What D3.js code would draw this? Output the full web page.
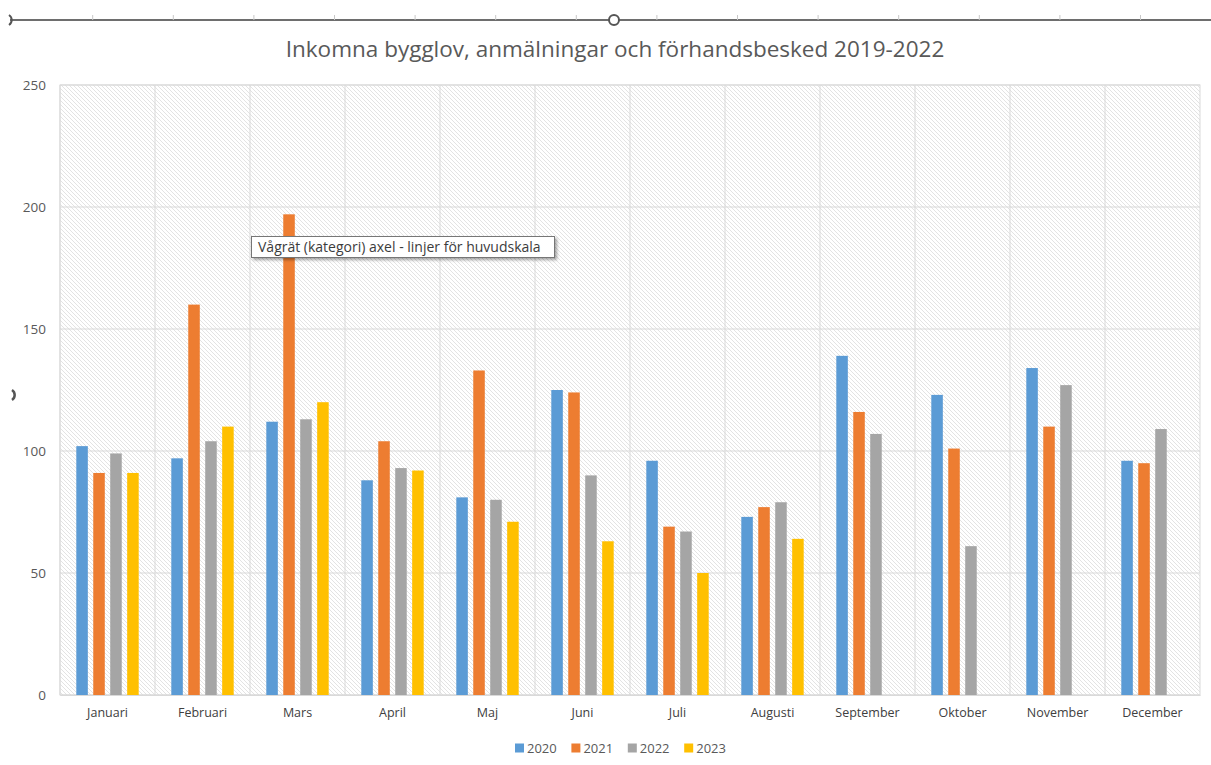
<!DOCTYPE html>
<html>
<head>
<meta charset="utf-8">
<script src="https://cdn.jsdelivr.net/npm/d3@7"></script>
<style>
  body { margin: 0; background: #fff; }
  text { font-family: "Open Sans", sans-serif; }
</style>
</head>
<body>
<div id="app"></div>
<script>
const container = document.querySelector('#app');

// chart data
const months = ["Januari", "Februari", "Mars", "April", "Maj", "Juni", "Juli",
  "Augusti", "September", "Oktober", "November", "December"];
const years = ["2020", "2021", "2022", "2023"];
const v2020 = [102, 97, 112, 88, 81, 125, 96, 73, 139, 123, 134, 96];
const v2021 = [91, 160, 197, 104, 133, 124, 69, 77, 116, 101, 110, 95];
const v2022 = [99, 104, 113, 93, 80, 90, 67, 79, 107, 61, 127, 109];
const v2023 = [91, 110, 120, 92, 71, 63, 50, 64, null, null, null, null];
const yTicks = [0, 50, 100, 150, 200, 250];
const colors = ["#5B9BD5", "#ED7D31", "#A5A5A5", "#FFC000"];

const series = [v2020, v2021, v2022, v2023];

// dimensions
const width = 1211;
const height = 765;
const marginTop = 85;
const marginRight = 11;
const marginBottom = 70;
const marginLeft = 60;

const svg = d3.create("svg")
    .attr("width", width)
    .attr("height", height);

// hatch pattern for the plot area (tile drawn on the pixel grid, no rotation)
const defs = svg.append("defs");
defs.append("pattern")
    .attr("id", "hatch")
    .attr("patternUnits", "userSpaceOnUse")
    .attr("width", 4)
    .attr("height", 4)
  .append("path")
    .attr("d", "M-1,-1 L5,5 M-1,3 L1,5 M3,-1 L5,1")
    .attr("stroke", "#e3e3e3")
    .attr("stroke-width", 1)
    .attr("fill", "none");

const shadow = defs.append("filter")
    .attr("id", "shadow")
    .attr("x", "-5%").attr("y", "-30%")
    .attr("width", "115%").attr("height", "180%");
shadow.append("feDropShadow")
    .attr("dx", 2).attr("dy", 2)
    .attr("stdDeviation", 1.5)
    .attr("flood-color", "#000")
    .attr("flood-opacity", 0.35);

// scales
const x = d3.scaleBand()
    .domain(months)
    .range([marginLeft, width - marginRight]);

const xInner = d3.scaleBand()
    .domain(years)
    .range([16.3, x.bandwidth() - 16.3])
    .paddingInner(0.32);

const y = d3.scaleLinear()
    .domain([0, 250])
    .range([height - marginBottom, marginTop]);

// plot area background
svg.append("rect")
    .attr("x", marginLeft)
    .attr("y", marginTop)
    .attr("width", width - marginLeft - marginRight)
    .attr("height", height - marginTop - marginBottom)
    .attr("fill", "url(#hatch)")
    .attr("stroke", "#d9d9d9");

// horizontal grid
svg.append("g")
  .selectAll("line")
  .data(yTicks)
  .join("line")
    .attr("x1", marginLeft)
    .attr("x2", width - marginRight)
    .attr("y1", d => y(d))
    .attr("y2", d => y(d))
    .attr("stroke", "#d9d9d9");

// vertical grid at category boundaries
svg.append("g")
  .selectAll("line")
  .data(months)
  .join("line")
    .attr("x1", d => x(d))
    .attr("x2", d => x(d))
    .attr("y1", marginTop)
    .attr("y2", height - marginBottom)
    .attr("stroke", "#d9d9d9");

// y axis
svg.append("g")
    .attr("transform", `translate(${marginLeft},0)`)
    .call(d3.axisLeft(y).tickValues(yTicks).tickSize(0).tickPadding(14))
    .call(g => g.select(".domain").remove())
    .call(g => g.selectAll("text")
        .attr("fill", "#595959")
        .attr("font-size", 13.5)
        .style("font-family", "'Open Sans', sans-serif"));

// x axis
svg.append("g")
    .attr("transform", `translate(0,${height - marginBottom})`)
    .call(d3.axisBottom(x).tickSize(0).tickPadding(13))
    .call(g => g.select(".domain").attr("stroke", "#d9d9d9"))
    .call(g => g.selectAll("text")
        .attr("fill", "#404040")
        .attr("font-size", 12.5)
        .style("font-family", "'Open Sans', sans-serif"));

// bars
const bars = [];
series.forEach((vals, i) => {
  vals.forEach((v, j) => {
    if (v != null) bars.push({ month: months[j], year: years[i], value: v, color: colors[i] });
  });
});

svg.append("g")
  .selectAll("rect")
  .data(bars)
  .join("rect")
    .attr("x", d => x(d.month) + xInner(d.year))
    .attr("y", d => y(d.value))
    .attr("width", xInner.bandwidth())
    .attr("height", d => y(0) - y(d.value))
    .attr("fill", d => d.color);

// title
svg.append("text")
    .attr("x", 615)
    .attr("y", 57)
    .attr("text-anchor", "middle")
    .attr("fill", "#595959")
    .attr("font-size", 22.5)
    .text("Inkomna bygglov, anmälningar och förhandsbesked 2019-2022");

// legend
const legend = svg.append("g")
    .attr("transform", `translate(515,748)`);

const item = legend.selectAll("g")
  .data(years)
  .join("g")
    .attr("transform", (d, i) => `translate(${i * 56.4},0)`);

item.append("rect")
    .attr("x", 0)
    .attr("y", -4.5)
    .attr("width", 9)
    .attr("height", 9)
    .attr("fill", (d, i) => colors[i]);

item.append("text")
    .attr("x", 12)
    .attr("y", 5)
    .attr("fill", "#595959")
    .attr("font-size", 13)
    .text(d => d);

// selection frame at the top (ruler line with handles)
const ruler = svg.append("g");
ruler.append("line")
    .attr("x1", 10).attr("x2", width)
    .attr("y1", 20).attr("y2", 20)
    .attr("stroke", "#6e6e6e")
    .attr("stroke-width", 2);
ruler.selectAll(".tick")
  .data(d3.range(14))
  .join("line")
    .attr("x1", d => 92.7 + d * 80.6)
    .attr("x2", d => 92.7 + d * 80.6)
    .attr("y1", 15)
    .attr("y2", 20)
    .attr("stroke", "#c8c8c8");
ruler.append("circle")
    .attr("cx", 614).attr("cy", 20).attr("r", 5)
    .attr("fill", "#fff")
    .attr("stroke", "#555")
    .attr("stroke-width", 2);
ruler.append("path")
    .attr("d", "M9,15 A6,6 0 0 1 9,25")
    .attr("fill", "none")
    .attr("stroke", "#555")
    .attr("stroke-width", 2);

// left resize handle
svg.append("path")
    .attr("d", "M12,390 A6,6 0 0 1 12,400")
    .attr("fill", "none")
    .attr("stroke", "#555")
    .attr("stroke-width", 2.5);

// tooltip
const tip = svg.append("g");
tip.append("rect")
    .attr("x", 251.5).attr("y", 236.5)
    .attr("width", 303).attr("height", 21)
    .attr("fill", "#fff")
    .attr("stroke", "#767676")
    .attr("filter", "url(#shadow)");
tip.append("text")
    .attr("x", 258)
    .attr("y", 252)
    .attr("fill", "#3c3c3c")
    .attr("font-size", 14)
    .text("Vågrät (kategori) axel - linjer för huvudskala");

container.append(svg.node());
</script>
</body>
</html>
